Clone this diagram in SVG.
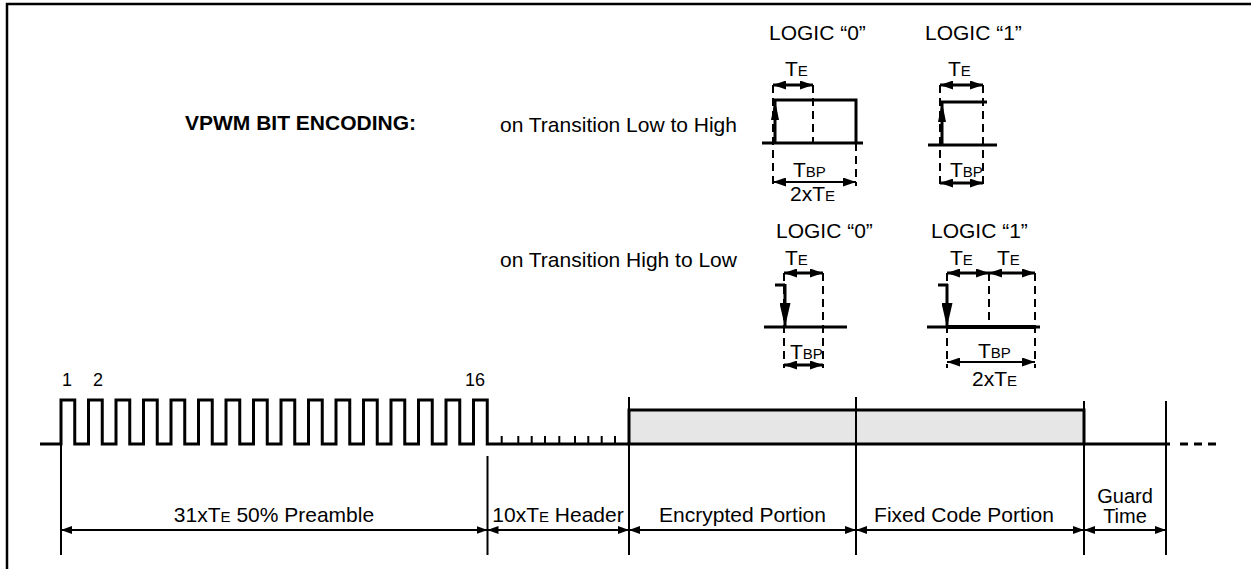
<svg xmlns="http://www.w3.org/2000/svg" width="1251" height="569" viewBox="0 0 1251 569">
<style>
text{font-family:"Liberation Sans",Arial,sans-serif;font-size:21px;fill:#000}
.b{font-weight:bold}
.s{font-size:15px}
.n{font-size:18px}
.w{stroke:#000;stroke-width:3;fill:none}
.t{stroke:#000;stroke-width:2;fill:none}
.d{stroke:#000;stroke-width:2;fill:none;stroke-dasharray:8 5}
.m{text-anchor:middle}
</style>
<defs>
<marker id="ah" markerUnits="userSpaceOnUse" markerWidth="11" markerHeight="8" refX="11" refY="4" orient="auto-start-reverse"><path d="M0,0 L11,4 L0,8 z" fill="#000"/></marker>
<marker id="at" markerUnits="userSpaceOnUse" markerWidth="13" markerHeight="9" refX="13" refY="4.5" orient="auto-start-reverse"><path d="M0,0 L13,4.5 L0,9 z" fill="#000"/></marker>
<marker id="au" markerUnits="userSpaceOnUse" markerWidth="20" markerHeight="8" refX="20" refY="4" orient="auto"><path d="M0,0 L20,4 L0,8 z" fill="#000"/></marker>
<marker id="ad" markerUnits="userSpaceOnUse" markerWidth="24" markerHeight="11" refX="24" refY="5.5" orient="auto"><path d="M0,0 L24,5.5 L0,11 z" fill="#000"/></marker>
</defs>
<rect width="1251" height="569" fill="#fff"/>
<g id="frame"><path d="M7,569 V4 H1251" stroke="#000" stroke-width="2.5" fill="none"/></g>
<g id="title"><text class="b" x="185" y="130">VPWM BIT ENCODING:</text>
<text x="500" y="132">on Transition Low to High</text>
<text x="500" y="267">on Transition High to Low</text></g>
<g id="logic0-lh">
<text x="769" y="40">LOGIC “0”</text>
<text x="785" y="76">T<tspan class="s">E</tspan></text>
<line class="d" x1="773" y1="85" x2="773" y2="186"/>
<line class="d" x1="813" y1="85" x2="813" y2="143"/>
<line class="d" x1="856" y1="143" x2="856" y2="186"/>
<line class="w" x1="773" y1="85" x2="813" y2="85" marker-start="url(#at)" marker-end="url(#at)"/>
<path class="w" d="M762,143 H863 M773,100 H856 V143"/>
<line class="w" x1="775" y1="143" x2="775" y2="100" marker-end="url(#au)"/>
<text x="793" y="177">T<tspan class="s">BP</tspan></text>
<line class="t" x1="773" y1="182" x2="856" y2="182" marker-start="url(#at)" marker-end="url(#at)"/>
<text x="790" y="201">2xT<tspan class="s">E</tspan></text>
</g>
<g id="logic1-lh">
<text x="925" y="40">LOGIC “1”</text>
<text x="948" y="76">T<tspan class="s">E</tspan></text>
<line class="d" x1="940" y1="85" x2="940" y2="186"/>
<line class="d" x1="983" y1="85" x2="983" y2="186"/>
<line class="w" x1="940" y1="85" x2="983" y2="85" marker-start="url(#at)" marker-end="url(#at)"/>
<path class="w" d="M928,145 H997 M940,102 H987"/>
<line class="w" x1="942" y1="145" x2="942" y2="102" marker-end="url(#au)"/>
<text x="950" y="177">T<tspan class="s">BP</tspan></text>
<line class="w" x1="940" y1="183" x2="983" y2="183" marker-start="url(#at)" marker-end="url(#at)"/>
</g>
<g id="logic0-hl">
<text x="776" y="238">LOGIC “0”</text>
<text x="785" y="265">T<tspan class="s">E</tspan></text>
<line class="d" x1="784" y1="273" x2="784" y2="368"/>
<line class="d" x1="823" y1="273" x2="823" y2="368"/>
<line class="w" x1="784" y1="273" x2="823" y2="273" marker-start="url(#at)" marker-end="url(#at)"/>
<path class="w" d="M764,327 H847 M775,285 H785"/>
<line class="w" x1="785" y1="284" x2="785" y2="327" marker-end="url(#ad)"/>
<text x="790" y="359">T<tspan class="s">BP</tspan></text>
<line class="w" x1="784" y1="365" x2="823" y2="365" marker-start="url(#at)" marker-end="url(#at)"/>
</g>
<g id="logic1-hl">
<text x="931" y="238">LOGIC “1”</text>
<text x="950" y="265">T<tspan class="s">E</tspan></text>
<text x="997" y="265">T<tspan class="s">E</tspan></text>
<line class="d" x1="947" y1="273" x2="947" y2="368"/>
<line class="d" x1="989" y1="273" x2="989" y2="327"/>
<line class="d" x1="1035" y1="273" x2="1035" y2="368"/>
<line class="w" x1="947" y1="273" x2="989" y2="273" marker-start="url(#at)" marker-end="url(#at)"/>
<line class="w" x1="989" y1="273" x2="1035" y2="273" marker-start="url(#at)" marker-end="url(#at)"/>
<path class="w" d="M927,327 H1040 M938,285 H948"/>
<line x1="947" y1="327" x2="1036" y2="327" stroke="#000" stroke-width="4"/>
<line class="w" x1="947" y1="284" x2="947" y2="327" marker-end="url(#ad)"/>
<text x="978" y="358">T<tspan class="s">BP</tspan></text>
<line class="t" x1="947" y1="362" x2="1035" y2="362" marker-start="url(#at)" marker-end="url(#at)"/>
<text x="972" y="386">2xT<tspan class="s">E</tspan></text>
</g>
<g id="waveform">
<text x="62" y="386" class="n">1</text>
<text x="93" y="386" class="n">2</text>
<text x="465" y="386" class="n">16</text>
<rect x="629" y="410" width="455" height="34" fill="#e6e6e6" stroke="#000" stroke-width="3"/>
<path class="w" d="M40,444 H61 V400 H74.75 V444 H88.5 V400 H102.25 V444 H116 V400 H129.75 V444 H143.5 V400 H157.25 V444 H171 V400 H184.75 V444 H198.5 V400 H212.25 V444 H226 V400 H239.75 V444 H253.5 V400 H267.25 V444 H281 V400 H294.75 V444 H308.5 V400 H322.25 V444 H336 V400 H349.75 V444 H363.5 V400 H377.25 V444 H391 V400 H404.75 V444 H418.5 V400 H432.25 V444 H446 V400 H459.75 V444 H473.5 V400 H487.25 V444 H629 M1084,444 H1170"/>
<path class="t" d="M501.7,436 V444 M518.3,436 V444 M531.7,436 V444 M545,436 V444 M559.3,436 V444 M575,436 V444 M588.3,436 V444 M601.7,436 V444 M615,436 V444"/>
<line x1="1180" y1="444" x2="1216" y2="444" stroke="#000" stroke-width="3" stroke-dasharray="8 6"/>
</g>
<g id="connectors">
<path class="t" d="M61,444 V555 M487.5,456 V555 M629,397 V555 M856,397 V555 M1084,401 V555 M1166,401 V555"/>
<line class="t" x1="61" y1="530" x2="487.5" y2="530" marker-start="url(#ah)" marker-end="url(#ah)"/>
<line class="t" x1="487.5" y1="530" x2="629" y2="530" marker-start="url(#ah)" marker-end="url(#ah)"/>
<line class="t" x1="629" y1="530" x2="856" y2="530" marker-start="url(#ah)" marker-end="url(#ah)"/>
<line class="t" x1="856" y1="530" x2="1084" y2="530" marker-start="url(#ah)" marker-end="url(#ah)"/>
<line class="t" x1="1084" y1="530" x2="1166" y2="530" marker-start="url(#ah)" marker-end="url(#ah)"/>
</g>
<g id="labels">
<text class="m" x="274" y="522">31xT<tspan class="s">E</tspan> 50% Preamble</text>
<text class="m" x="558" y="522">10xT<tspan class="s">E</tspan> Header</text>
<text class="m" x="742.5" y="522">Encrypted Portion</text>
<text class="m" x="964" y="522">Fixed Code Portion</text>
<text class="m" x="1125" y="503" style="font-size:20px">Guard</text>
<text class="m" x="1125" y="523" style="font-size:20px">Time</text>
</g>
</svg>
